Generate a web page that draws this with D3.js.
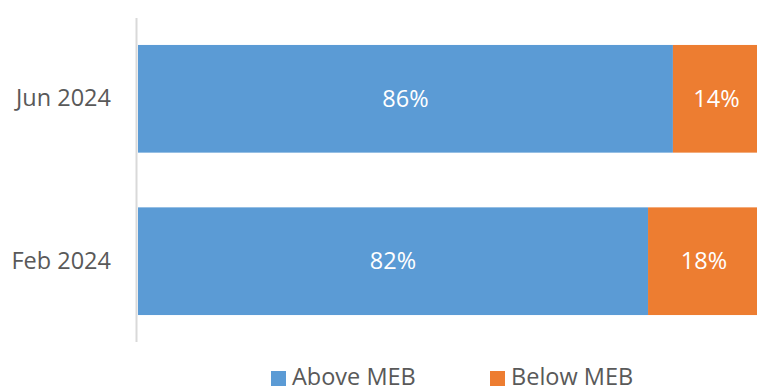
<!DOCTYPE html>
<html>
<head>
<meta charset="utf-8">
<script src="https://cdn.jsdelivr.net/npm/d3@7/dist/d3.min.js"></script>
<style>
  html, body { margin: 0; padding: 0; background: #fff; overflow: hidden; }
  svg { display: block; font-family: "Open Sans", sans-serif; }
</style>
</head>
<body>
<svg id="chart" width="757" height="386"></svg>
<script>
// Share of households above / below the MEB, by survey round
const periods = ["Jun 2024", "Feb 2024"];
const aboveMEB = [86, 82];
const belowMEB = [14, 18];
const seriesNames = ["Above MEB", "Below MEB"];
const seriesColors = ["#5B9BD5", "#ED7D31"];

const svg = d3.select("#chart");
const margin = { left: 137, right: -2, top: 18, bottom: 44 };
const width = 757 - margin.left - margin.right;
const height = 386 - margin.top - margin.bottom;

const g = svg.append("g").attr("transform", `translate(${margin.left},${margin.top})`);

const x = d3.scaleLinear().domain([0, 100]).range([0, width]);
const y = d3.scaleBand().domain(periods).range([0, height])
  .paddingInner(0.337).paddingOuter(0.166);

const rows = periods.map((p, i) => ({ period: p, "Above MEB": aboveMEB[i], "Below MEB": belowMEB[i] }));
const stacked = d3.stack().keys(seriesNames)(rows);

const layers = g.selectAll("g.layer").data(stacked).join("g")
  .attr("class", "layer")
  .attr("fill", (d, i) => seriesColors[i]);

layers.selectAll("rect").data(d => d).join("rect")
  .attr("x", d => x(d[0]) + 1)
  .attr("y", d => y(d.data.period))
  .attr("width", d => x(d[1]) - x(d[0]))
  .attr("height", y.bandwidth());

layers.selectAll("text").data(d => d.map(v => ({ v, key: d.key }))).join("text")
  .attr("x", d => (x(d.v[0]) + x(d.v[1])) / 2 + 1)
  .attr("y", d => y(d.v.data.period) + y.bandwidth() / 2)
  .attr("dy", "0.35em")
  .attr("text-anchor", "middle")
  .attr("fill", "#fff")
  .attr("font-size", 23.5)
  .text(d => `${d.v.data[d.key]}%`);

// Category axis
const yAxis = g.append("g").call(d3.axisLeft(y).tickSize(0).tickPadding(26));
yAxis.select(".domain").attr("stroke", "#D9D9D9").attr("stroke-width", 2).attr("d", `M-0.5,0V${height}`);
yAxis.selectAll("text").attr("font-size", 23.5).attr("fill", "#595959").attr("font-family", "Open Sans, sans-serif");

// Legend
const legend = svg.append("g").attr("transform", "translate(271,371)");
const items = legend.selectAll("g").data(seriesNames).join("g")
  .attr("transform", (d, i) => `translate(${i * 219},0)`);
items.append("rect").attr("width", 15).attr("height", 15).attr("fill", (d, i) => seriesColors[i]);
items.append("text").attr("x", 21).attr("y", 14).attr("font-size", 23.5).attr("fill", "#595959").text(d => d);
</script>
</body>
</html>
